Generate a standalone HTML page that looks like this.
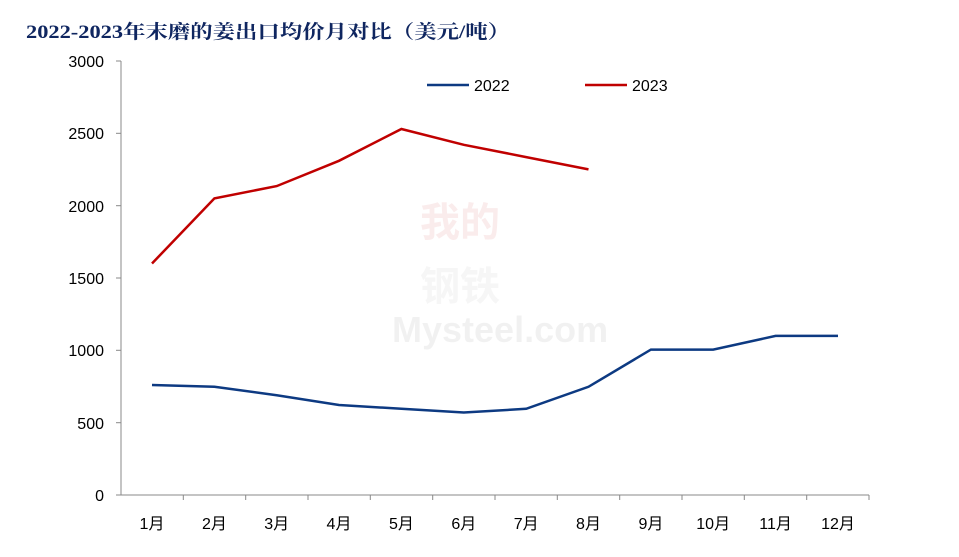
<!DOCTYPE html>
<html><head><meta charset="utf-8"><style>
body{margin:0;background:#fff;width:959px;height:552px;overflow:hidden}
</style></head><body>
<svg width="959" height="552" xmlns="http://www.w3.org/2000/svg" font-family="Liberation Sans, Noto Sans CJK SC, sans-serif">
<text x="26" y="38" font-size="19" font-weight="bold" fill="#0f2660" textLength="484" lengthAdjust="spacingAndGlyphs" font-family="Liberation Serif, Noto Serif CJK SC, serif">2022-2023年末磨的姜出口均价月对比（美元/吨）</text>
<g opacity="0.07" fill="#c00000" font-weight="bold" font-size="40"><text x="420" y="236">我的</text><text x="420" y="300" fill="#888">钢铁</text></g>
<text x="392" y="342" font-size="36" fill="#000" opacity="0.05" font-weight="bold">Mysteel.com</text>
<g stroke="#888" stroke-width="1" fill="none">
<line x1="121" y1="61" x2="121" y2="495"/>
<line x1="121" y1="495" x2="869" y2="495"/>
<line x1="116" y1="61" x2="121" y2="61"/><line x1="116" y1="133.3" x2="121" y2="133.3"/><line x1="116" y1="205.7" x2="121" y2="205.7"/><line x1="116" y1="278" x2="121" y2="278"/><line x1="116" y1="350.3" x2="121" y2="350.3"/><line x1="116" y1="422.7" x2="121" y2="422.7"/><line x1="116" y1="495" x2="121" y2="495"/>
<line x1="183.3" y1="495" x2="183.3" y2="500"/><line x1="245.7" y1="495" x2="245.7" y2="500"/><line x1="308" y1="495" x2="308" y2="500"/><line x1="370.3" y1="495" x2="370.3" y2="500"/><line x1="432.7" y1="495" x2="432.7" y2="500"/><line x1="495" y1="495" x2="495" y2="500"/><line x1="557.3" y1="495" x2="557.3" y2="500"/><line x1="619.7" y1="495" x2="619.7" y2="500"/><line x1="682" y1="495" x2="682" y2="500"/><line x1="744.3" y1="495" x2="744.3" y2="500"/><line x1="806.7" y1="495" x2="806.7" y2="500"/><line x1="869" y1="495" x2="869" y2="500"/>
</g>
<g font-size="16" fill="#000" text-anchor="end">
<text x="104" y="67">3000</text><text x="104" y="139">2500</text><text x="104" y="212">2000</text><text x="104" y="284">1500</text><text x="104" y="356">1000</text><text x="104" y="429">500</text><text x="104" y="501">0</text>
</g>
<g font-size="16" fill="#000" text-anchor="middle">
<text x="152" y="529">1月</text><text x="214.4" y="529">2月</text><text x="276.7" y="529">3月</text><text x="339" y="529">4月</text><text x="401.4" y="529">5月</text><text x="463.8" y="529">6月</text><text x="526.2" y="529">7月</text><text x="588.5" y="529">8月</text><text x="650.9" y="529">9月</text><text x="713.2" y="529">10月</text><text x="775.6" y="529">11月</text><text x="838" y="529">12月</text>
</g>
<polyline fill="none" stroke="#0d3a82" stroke-width="2.5" points="152,385 214.4,386.8 276.7,395.2 339,405 401.4,408.8 463.8,412.5 526.2,408.8 588.5,386.8 650.9,349.6 713.2,349.6 775.6,335.9 838,335.9"/>
<polyline fill="none" stroke="#c00000" stroke-width="2.5" points="152,263.5 214.4,198.4 276.7,186.1 339,160.8 401.4,129 463.8,144.8 526.2,157.1 588.5,169.4"/>
<line x1="427" y1="85" x2="469" y2="85" stroke="#0d3a82" stroke-width="2.5"/>
<text x="474" y="91" font-size="16">2022</text>
<line x1="585" y1="85" x2="627" y2="85" stroke="#c00000" stroke-width="2.5"/>
<text x="632" y="91" font-size="16">2023</text>
</svg>
</body></html>
